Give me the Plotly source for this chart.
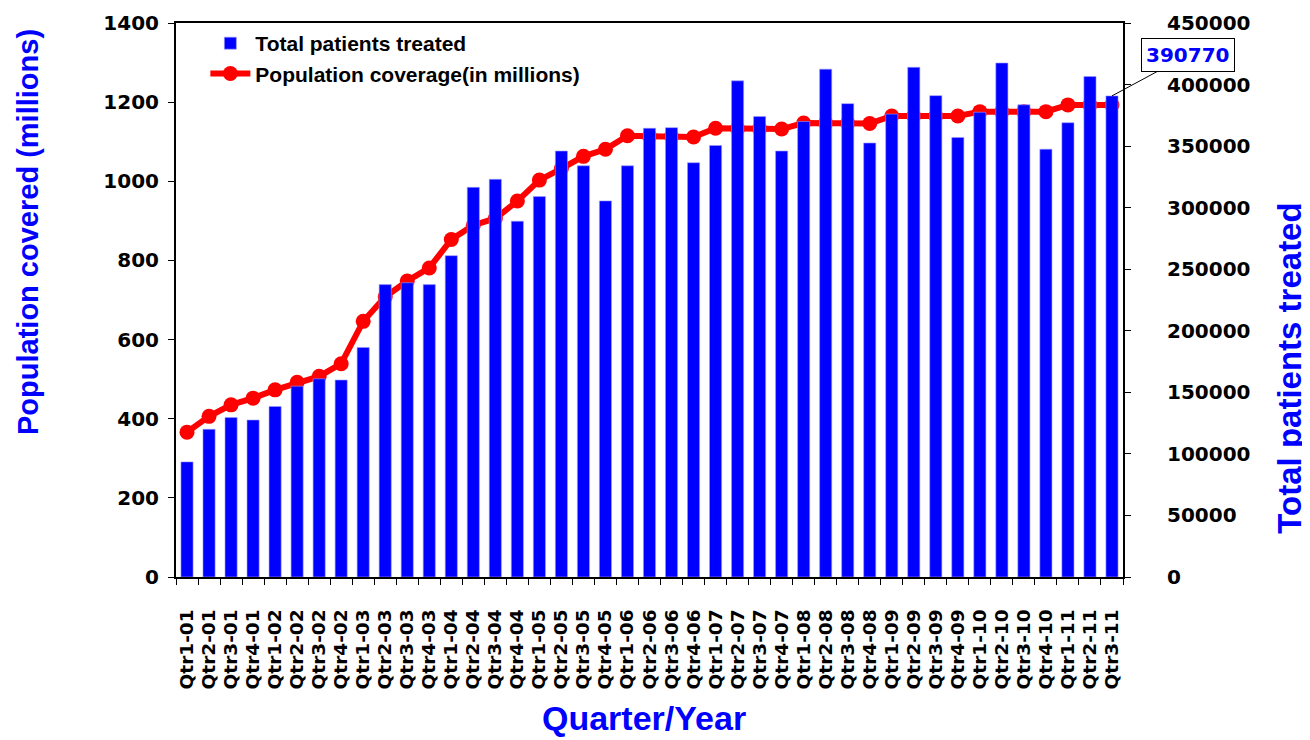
import plotly.graph_objects as go

# quarters shown on the x axis
quarters = [
    "Qtr1-01", "Qtr2-01", "Qtr3-01", "Qtr4-01",
    "Qtr1-02", "Qtr2-02", "Qtr3-02", "Qtr4-02",
    "Qtr1-03", "Qtr2-03", "Qtr3-03", "Qtr4-03",
    "Qtr1-04", "Qtr2-04", "Qtr3-04", "Qtr4-04",
    "Qtr1-05", "Qtr2-05", "Qtr3-05", "Qtr4-05",
    "Qtr1-06", "Qtr2-06", "Qtr3-06", "Qtr4-06",
    "Qtr1-07", "Qtr2-07", "Qtr3-07", "Qtr4-07",
    "Qtr1-08", "Qtr2-08", "Qtr3-08", "Qtr4-08",
    "Qtr1-09", "Qtr2-09", "Qtr3-09", "Qtr4-09",
    "Qtr1-10", "Qtr2-10", "Qtr3-10", "Qtr4-10",
    "Qtr1-11", "Qtr2-11", "Qtr3-11",
]

# total patients treated (right axis)
patients = [
    93500, 120000, 129500, 127500,
    138500, 155000, 161000, 160000,
    186500, 237500, 239000, 237500,
    261000, 316500, 323000, 289000,
    309000, 346000, 334000, 305500,
    334000, 364500, 365000, 336500,
    350500, 403000, 374000, 346000,
    370000, 412500, 384500, 352500,
    376000, 414000, 391000, 357000,
    377500, 417500, 383500, 347500,
    369000, 406500, 390770,
]

# population coverage in millions (left axis)
coverage = [
    366, 406, 435, 452,
    473, 492, 507, 539,
    646, 708, 748, 781,
    853, 889, 906, 950,
    1003, 1032, 1063, 1081,
    1115, 1114, 1113, 1112,
    1134, 1133, 1133, 1132,
    1147, 1147, 1147, 1146,
    1165, 1165, 1165, 1165,
    1176, 1176, 1176, 1176,
    1193, 1193, 1193,
]

last_label = "390770"

BLUE = "#0000FF"
RED = "#FF0000"
TICKFONT = "DejaVu Sans"
SANS = "Liberation Sans, Arial"

fig = go.Figure()

fig.add_trace(go.Bar(
    x=quarters, y=patients, name="Total patients treated",
    marker=dict(color=BLUE, line=dict(color="#9a9aff", width=0.6)),
    yaxis="y2",
))

fig.add_trace(go.Scatter(
    x=quarters, y=coverage, name="Population coverage(in millions)",
    mode="lines+markers",
    line=dict(color=RED, width=6),
    marker=dict(color=RED, size=15),
    yaxis="y",
))

# callout on the last bar
fig.add_annotation(
    x=quarters[-1], y=patients[-1], xref="x", yref="y2",
    text="<b>" + last_label + "</b>",
    font=dict(family=TICKFONT, size=20, color=BLUE),
    showarrow=True, arrowhead=0, arrowwidth=1, arrowcolor="black",
    ax=76, ay=-41,
    bordercolor="black", borderwidth=1, borderpad=4, bgcolor="white",
)

# axis titles (placed like the original, not centred)
fig.add_annotation(
    text="Population covered (millions)", textangle=-90,
    xref="paper", yref="paper", x=-0.1563, y=0.6227,
    xanchor="center", yanchor="middle", showarrow=False,
    font=dict(family=SANS, size=29, color=BLUE, weight="bold"),
)
fig.add_annotation(
    text="Total patients treated", textangle=-90,
    xref="paper", yref="paper", x=1.176, y=0.3773,
    xanchor="center", yanchor="middle", showarrow=False,
    font=dict(family=SANS, size=33, color=BLUE, weight="bold"),
)
fig.add_annotation(
    text="Quarter/Year",
    xref="paper", yref="paper", x=0.494, y=-0.2545,
    xanchor="center", yanchor="middle", showarrow=False,
    font=dict(family=SANS, size=34, color=BLUE, weight="bold"),
)

# page body adds 8px around the plot, so the figure is 8px smaller each way
fig.update_layout(
    width=1302, height=732,
    margin=dict(l=168, r=187, t=15, b=163),
    paper_bgcolor="white", plot_bgcolor="white",
    bargap=0.45,
    showlegend=True,
    legend=dict(
        x=0.031, y=1.0, xanchor="left", yanchor="top",
        bgcolor="rgba(0,0,0,0)",
        font=dict(family=SANS, size=21, color="black", weight="bold"),
        tracegroupgap=0, itemwidth=40,
    ),
    xaxis=dict(
        range=[-0.5, len(quarters) - 0.5], autorange=False,
        tickmode="array", tickvals=quarters, ticktext=quarters,
        tickangle=-90,
        tickfont=dict(family=TICKFONT, size=18.5, color="black", weight="bold"),
        ticks="outside", ticklen=6, tickcolor="black", tickson="boundaries",
        ticklabelstandoff=23,
        showline=True, linecolor="black", linewidth=2, mirror=True,
        showgrid=False, automargin=False,
    ),
    yaxis=dict(
        range=[0, 1400], dtick=200,
        tickfont=dict(family=TICKFONT, size=20, color="black", weight="bold"),
        ticks="outside", ticklen=6, tickcolor="black",
        ticklabelstandoff=5,
        showline=True, linecolor="black", linewidth=2,
        showgrid=False, zeroline=False, automargin=False,
    ),
    yaxis2=dict(
        range=[0, 450000], dtick=50000, tickformat="d",
        overlaying="y", side="right",
        tickfont=dict(family=TICKFONT, size=20, color="black", weight="bold"),
        ticks="outside", ticklen=6, tickcolor="black",
        ticklabelstandoff=32,
        showline=True, linecolor="black", linewidth=2,
        showgrid=False, zeroline=False, automargin=False,
    ),
)

fig.write_html("out.html")
